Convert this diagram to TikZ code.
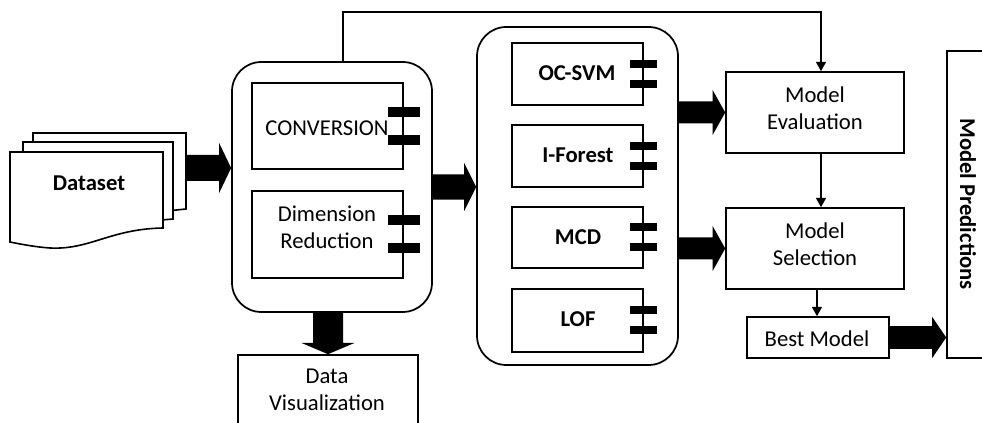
\documentclass[tikz,border=0pt]{standalone}
\usepackage{fontspec}
\setmainfont{Carlito}
\usetikzlibrary{fit,calc,arrows.meta}
\newcommand\fatH[5]{\fill let \p1=(#1), \p2=(#2) in (\x1,{\y2+#3}) -- ({\x2-#5},{\y2+#3}) -- ({\x2-#5},{\y2+#4}) -- (\x2,\y2) -- ({\x2-#5},{\y2-#4}) -- ({\x2-#5},{\y2-#3}) -- (\x1,{\y2-#3}) -- cycle;}
\newcommand\fatV[5]{\fill let \p1=(#1), \p2=(#2) in ({\x2+#3},\y1) -- ({\x2+#3},{\y2+#5}) -- ({\x2+#4},{\y2+#5}) -- (\x2,\y2) -- ({\x2-#4},{\y2+#5}) -- ({\x2-#3},{\y2+#5}) -- ({\x2-#3},\y1) -- cycle;}
\newcommand\tabpair[4]{\foreach \d in {-#2,#2} {\fill ([shift={({-#3/2},{\d-#4/2})}]#1.east) rectangle ++(#3,#4);}}
\begin{document}
\begin{tikzpicture}[x=0.75pt,y=-0.75pt,
 box/.style={draw, line width=1.2pt, inner sep=0pt, fill=white},
 outer/.style={draw, line width=1.3pt, rounded corners=22pt, inner sep=0pt},
 lbl/.style={font=\fontsize{17}{20}\selectfont, align=center, inner sep=0pt},
 blbl/.style={font=\fontsize{17}{20}\selectfont\bfseries, align=center, inner sep=0pt},
 conn/.style={line width=1.1pt, -{Triangle[length=7pt,width=7.5pt]}},
 doc/.style={draw, line width=1.2pt, fill=white, line join=miter},
]
\clip (0,0) rectangle (982,423);
\fill[white] (0,0) rectangle (982,423);

% dataset documents
\draw[doc] (33,225) -- (33,133) -- (186,133) -- (186,209) -- cycle;
\draw[doc] (23,232) -- (23,142) -- (173,142) -- (173,219) -- cycle;
\draw[doc] (10,242) -- (10,152) -- (163,152) -- (163,228) .. controls (110,229) and (90,250) .. (50,248) .. controls (35,247) and (20,244) .. (10,242) -- cycle;
\node[blbl] (ds) at (89,183) {Dataset};
\coordinate (dsout) at (186,168);

% preprocessing group
\node[outer, fit={(232,62) (432,312)}] (pre) {};
\node[box, fit={(252,83) (403,169)}] (conv) {};
\node[box, fit={(252,191) (403,278)}] (dr) {};
\tabpair{conv}{14}{32}{10}
\tabpair{dr}{14}{32}{10}
\node[lbl] (convT) at (327,128) {CONVERSION};
\node[lbl] (drT) at (327,227) {Dimension\\Reduction};

% models group
\node[outer, fit={(477,27) (678,365)}] (models) {};
\node[box, fit={(512,43) (643,105)}] (ocsvm) {};
\node[box, fit={(512,125) (643,187)}] (iforest) {};
\node[box, fit={(512,207) (643,268)}] (mcd) {};
\node[box, fit={(512,289) (643,352)}] (lof) {};
\tabpair{ocsvm}{10}{27}{8}
\tabpair{iforest}{10}{27}{8}
\tabpair{mcd}{10}{27}{8}
\tabpair{lof}{10}{27}{8}
\node[blbl] (ocsvmT) at (577,73) {OC-SVM};
\node[blbl] (iforestT) at (578,155) {I-Forest};
\node[blbl] (mcdT) at (578,237) {MCD};
\node[blbl] (lofT) at (578,319) {LOF};

% right side
\node[box, fit={(726,72) (904,153)}] (me) {};
\node[lbl] (meT) at (815,108.5) {Model\\Evaluation};
\node[box, fit={(726,208) (904,289)}] (ms) {};
\node[lbl] (msT) at (815,244) {Model\\Selection};
\node[box, fit={(747,317) (889,358)}] (best) {};
\node[lbl] (bestT) at (817,339) {Best Model};
\node[box, fit={(947,51) (1000,358)}] (mp) {};
\node[blbl, rotate=-90] (mpT) at (968,204) {Model Predictions};
\node[box, fit={(238,355) (418,430)}] (dv) {};
\node[lbl] (dvT) at (327,390) {Data\\Visualization};

% fat arrows
\fatH{dsout}{pre.west |- dsout}{9.75pt}{18.75pt}{9pt}
\fatH{pre.east}{models.west |- pre.east}{9.4pt}{18pt}{9pt}
\fatH{models.east |- me}{me.west}{8.25pt}{17pt}{9.5pt}
\fatH{models.east |- ms}{ms.west}{8.25pt}{17pt}{9.5pt}
\fatH{best.east}{mp.west |- best}{8.6pt}{15.4pt}{10.5pt}
\fatV{pre.south -| dv.north}{dv.north}{11.25pt}{20pt}{8.5pt}

% thin connectors
\coordinate (t1) at (343,12);
\coordinate (t2) at (821,12);
\coordinate (t3) at (817,0);
\draw[conn] (pre.north -| t1) |- (t2) -- (me.north -| t2);
\draw[conn] (me.south -| t2) -- (ms.north -| t2);
\draw[conn] (ms.south -| t3) -- (best.north -| t3);
\end{tikzpicture}
\end{document}
